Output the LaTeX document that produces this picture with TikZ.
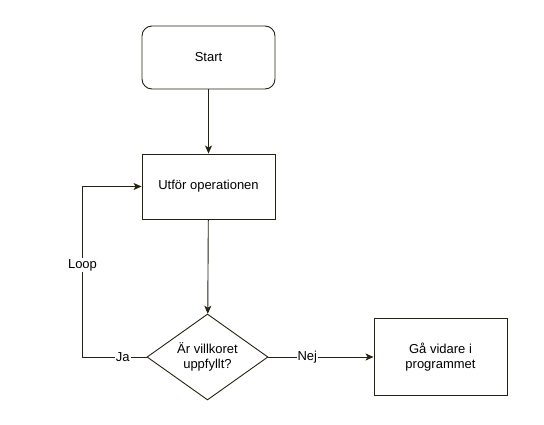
\documentclass[tikz,border=0pt]{standalone}
\usepackage{fontspec}
\setmainfont{Liberation Sans}
\definecolor{flowline}{RGB}{38,34,16}
\usetikzlibrary{arrows.meta,positioning,shapes.geometric}

\begin{document}
\begin{tikzpicture}[x=1pt, y=1pt, every node/.style={font=\fontsize{13}{15.5}\selectfont},
  box/.style={draw=flowline, line width=0.9pt, fill=white, minimum width=133pt, minimum height=65pt, align=center},
  test/.style={diamond, draw=flowline, line width=0.9pt, fill=white, minimum width=121pt, minimum height=86pt, inner sep=0pt, aspect=1.4, align=center},
  flow/.style={draw=flowline, line width=0.9pt, -{Stealth[length=8pt,width=7pt,inset=2pt]}},
  lbl/.style={fill=white, inner sep=1pt}]
\useasboundingbox (0,0) rectangle (544,424);
\node[box, rounded corners=10pt, minimum height=63pt] (start) at (208.5,366.5) {Start};
\node[box] (utfor) at (208.5,237.5) {Utför operationen};
\node[test] (villkor) at (207.5,67) {Är villkoret\\uppfyllt?};
\node[box, minimum height=77pt] (vidare) at (440.5,67) {Gå vidare i\\programmet};
\coordinate (hornned) at (82.5,67);
\coordinate (hornupp) at (82.5,237.5);

\draw[flow] (start) -- (utfor);
\draw[flow] (utfor) -- (villkor);
\draw[flow] (villkor) -- node[lbl, pos=0.37] {Nej} (vidare);
\draw[flow] (villkor.west) -- node[lbl, pos=0.37] {Ja} (hornned)
  -- node[lbl, pos=0.54] {Loop} (hornupp) -- (utfor.west);
\end{tikzpicture}
\end{document}
